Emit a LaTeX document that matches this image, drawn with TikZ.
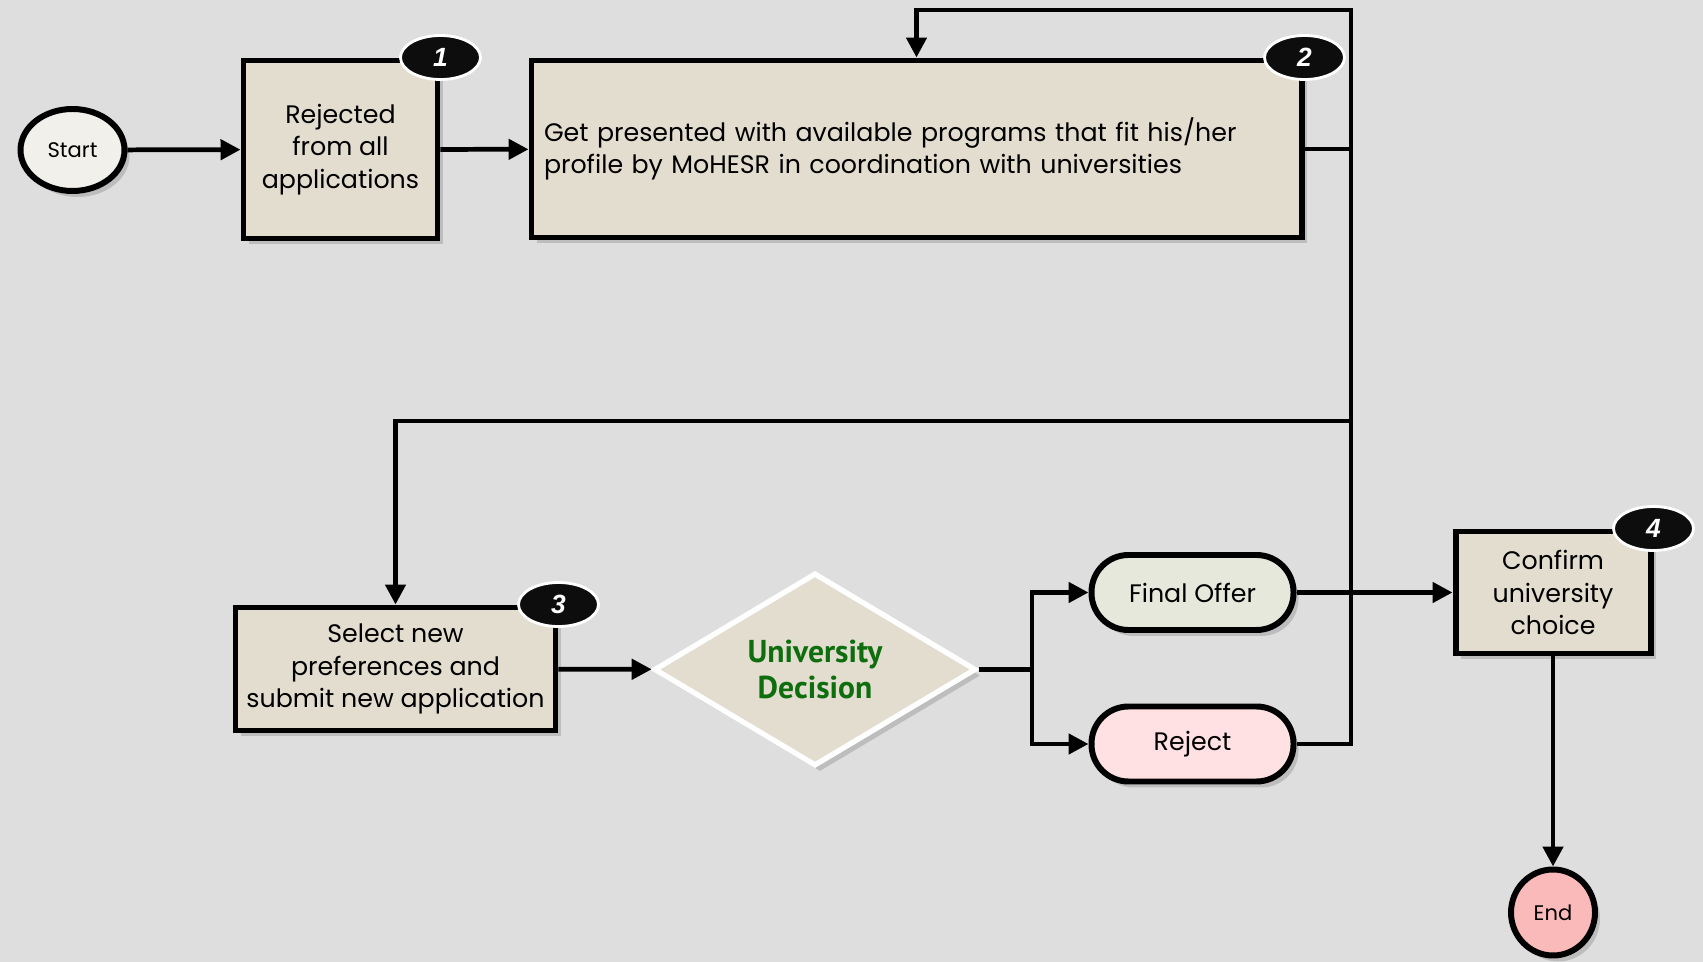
\documentclass[tikz,border=0pt]{standalone}
\usepackage{fontspec}
\setmainfont{Poppins}
\newfontfamily\badgefont{Liberation Sans}
\newfontfamily\decfont{PT Sans}
\usetikzlibrary{positioning,shapes.geometric,arrows.meta,shadows}
\definecolor{bgcol}{HTML}{DEDEDE}
\definecolor{boxfill}{HTML}{E3DDD0}
\definecolor{startfill}{HTML}{F2F0EA}
\definecolor{offerfill}{HTML}{E5E8DA}
\definecolor{rejectfill}{HTML}{FFE1E3}
\definecolor{endfill}{HTML}{FBBABA}
\definecolor{decgreen}{HTML}{0E6E0E}
\begin{document}
\begin{tikzpicture}[>={Triangle[length=2mm,width=2mm]}, line width=1.35pt,
        every node/.style={font=\fontsize{7.2}{9.3}\selectfont},
        shade/.style={drop shadow={shadow xshift=0.5mm, shadow yshift=-0.6mm, opacity=0.35}},
        procbox/.style={draw, line width=1.7pt, fill=boxfill, align=center, inner sep=0pt, shade},
        terminal/.style={ellipse, draw, line width=1.7pt, inner sep=0pt, shade, font=\fontsize{6}{7}\selectfont},
        pill/.style={draw, line width=1.7pt, rounded corners=0.37cm, minimum width=2.02cm, minimum height=0.75cm, shade},
        badge/.style={ellipse, draw=white, line width=0.8pt, fill=black!95, text=white, minimum width=0.80cm, minimum height=0.44cm, inner sep=0pt, font=\badgefont\bfseries\itshape\fontsize{7.5}{8}\selectfont}]
    \fill[bgcol] (0,0) rectangle (17.03,-9.62);
    \useasboundingbox (0,0) rectangle (17.03,-9.62);
    \node[terminal, fill=startfill, minimum width=1.04cm, minimum height=0.82cm] (start) at (0.725,-1.50) {Start};
    \node[procbox, minimum width=1.94cm, minimum height=1.78cm] (rejected) at (3.405,-1.495) {Rejected\\from all\\applications};
    \node[procbox, minimum width=7.70cm, minimum height=1.77cm, text width=7.45cm, align=left] (programs) at (9.165,-1.49) {Get presented with available programs that fit his/her profile by MoHESR in coordination with universities};
    \node[procbox, minimum width=3.20cm, minimum height=1.23cm] (select) at (3.955,-6.69) {Select new\\preferences and\\submit new application};
    \node[diamond, draw=white, line width=1.5pt, fill=boxfill, minimum width=3.22cm, minimum height=1.87cm, inner sep=0pt, align=center, shade, text=decgreen, font=\decfont\bfseries\fontsize{9}{10}\selectfont] (decision) at (8.15,-6.695) {University\\Decision};
    \node[pill, fill=offerfill] (offer) at (11.925,-5.925) {Final Offer};
    \node[pill, fill=rejectfill] (reject) at (11.925,-7.44) {Reject};
    \node[procbox, minimum width=1.95cm, minimum height=1.22cm] (confirm) at (15.53,-5.925) {Confirm\\university\\choice};
    \node[terminal, fill=endfill, minimum width=0.84cm, minimum height=0.86cm] (stop) at (15.53,-9.125) {End};
    % step numbers
    \node[badge] (b1) at (rejected.north east) {1};
    \node[badge] (b2) at (programs.north east) {2};
    \node[badge] (b3) at (select.north east) {3};
    \node[badge] (b4) at (confirm.north east) {4};
    \coordinate (rtop) at (13.51,-0.10);
    \coordinate (rmid) at (13.51,-4.21);
    \coordinate (split) at (10.32,-6.695);
    \draw[->] (start) -- (rejected);
    \draw[->] (rejected) -- (programs);
    \draw[->] (reject.east) -| (rtop) -| (programs.north);
    \draw[->] (programs.east) -| (rmid) -| (select.north);
    \draw[->] (select) -- (decision);
    \draw (decision.east) -- (split);
    \draw[->] (split) |- (offer.west);
    \draw[->] (split) |- (reject.west);
    \draw[->] (offer) -- (confirm);
    \draw[->] (confirm) -- (stop);
\end{tikzpicture}
\end{document}
